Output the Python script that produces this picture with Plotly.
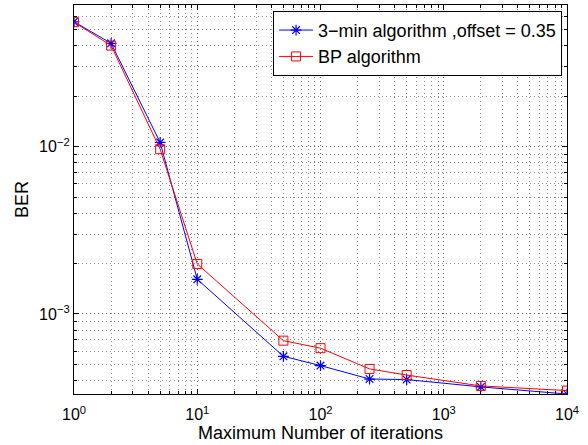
import plotly.graph_objects as go
import numpy as np

iterations = [1, 2, 5, 10, 50, 100, 250, 500, 2000, 10000]
ber_3min = [0.0558, 0.0415, 0.0106, 0.00161, 5.58e-4, 4.91e-4, 4.08e-4, 4.05e-4, 3.66e-4, 3.32e-4]
ber_bp = [0.0555, 0.0402, 0.00965, 0.00199, 6.92e-4, 6.24e-4, 4.69e-4, 4.31e-4, 3.71e-4, 3.48e-4]

names = ["3\u2212min algorithm ,offset = 0.35", "BP algorithm"]

x_tickvals = [1, 10, 100, 1000, 10000]
x_ticktext = ["10<sup>0</sup>", "10<sup>1</sup>", "10<sup>2</sup>", "10<sup>3</sup>", "10<sup>4</sup>"]
y_tickvals = [1e-3, 1e-2]
y_ticktext = ["10<sup>\u22123</sup>", "10<sup>\u22122</sup>"]

FONT = "Liberation Sans, Arial, Helvetica, sans-serif"

fig = go.Figure()
fig.add_trace(go.Scatter(
    x=iterations, y=ber_3min, name=names[0], mode="lines+markers",
    line=dict(color="#0000ff", width=1),
    marker=dict(symbol="asterisk-open", size=9, color="#0000ff",
                line=dict(color="#0000ff", width=1.2)),
))
fig.add_trace(go.Scatter(
    x=iterations, y=ber_bp, name=names[1], mode="lines+markers",
    line=dict(color="#ff0000", width=1),
    marker=dict(symbol="square-open", size=9, color="#ff0000",
                line=dict(color="#ff0000", width=1)),
))

GRIDC = "rgba(90,90,90,0.7)"
DASH = "1px,3px"

common = dict(
    type="log", ticks="inside", ticklen=5, tickcolor="black", mirror="allticks",
    showline=True, linecolor="black", linewidth=1.3,
    tickfont=dict(size=16, color="black", family=FONT),
    zeroline=False,
    showgrid=True, gridcolor=GRIDC, griddash=DASH, gridwidth=1,
    minor=dict(dtick="D1", ticks="inside", ticklen=3, tickcolor="black", showgrid=True,
               gridcolor=GRIDC, griddash=DASH, gridwidth=1),
)

fig.update_xaxes(
    range=[0, 4], tickmode="array", tickvals=x_tickvals, ticktext=x_ticktext,
    ticklabelstandoff=6,
    title=dict(text="Maximum Number of iterations", font=dict(size=18, color="black", family=FONT), standoff=0),
    **common,
)
fig.update_yaxes(
    range=[np.log10(3.32e-4), np.log10(0.0703)], tickmode="array", tickvals=y_tickvals, ticktext=y_ticktext,
    title=dict(text="BER", font=dict(size=18, color="black", family=FONT), standoff=5),
    **common,
)

fig.update_layout(
    width=588, height=445,
    margin=dict(l=74, r=21, t=5, b=51),
    plot_bgcolor="white", paper_bgcolor="white",
    font=dict(family=FONT, color="black"),
    showlegend=True,
    legend=dict(x=0.99, y=0.985, xanchor="right", yanchor="top",
                bgcolor="white", bordercolor="black", borderwidth=1,
                font=dict(size=18, color="black", family=FONT),
                tracegroupgap=0, itemwidth=34),
)

fig.write_html("out.html", config={"displayModeBar": False},
               post_script="document.body.style.margin='0px';document.body.style.overflow='hidden';")
